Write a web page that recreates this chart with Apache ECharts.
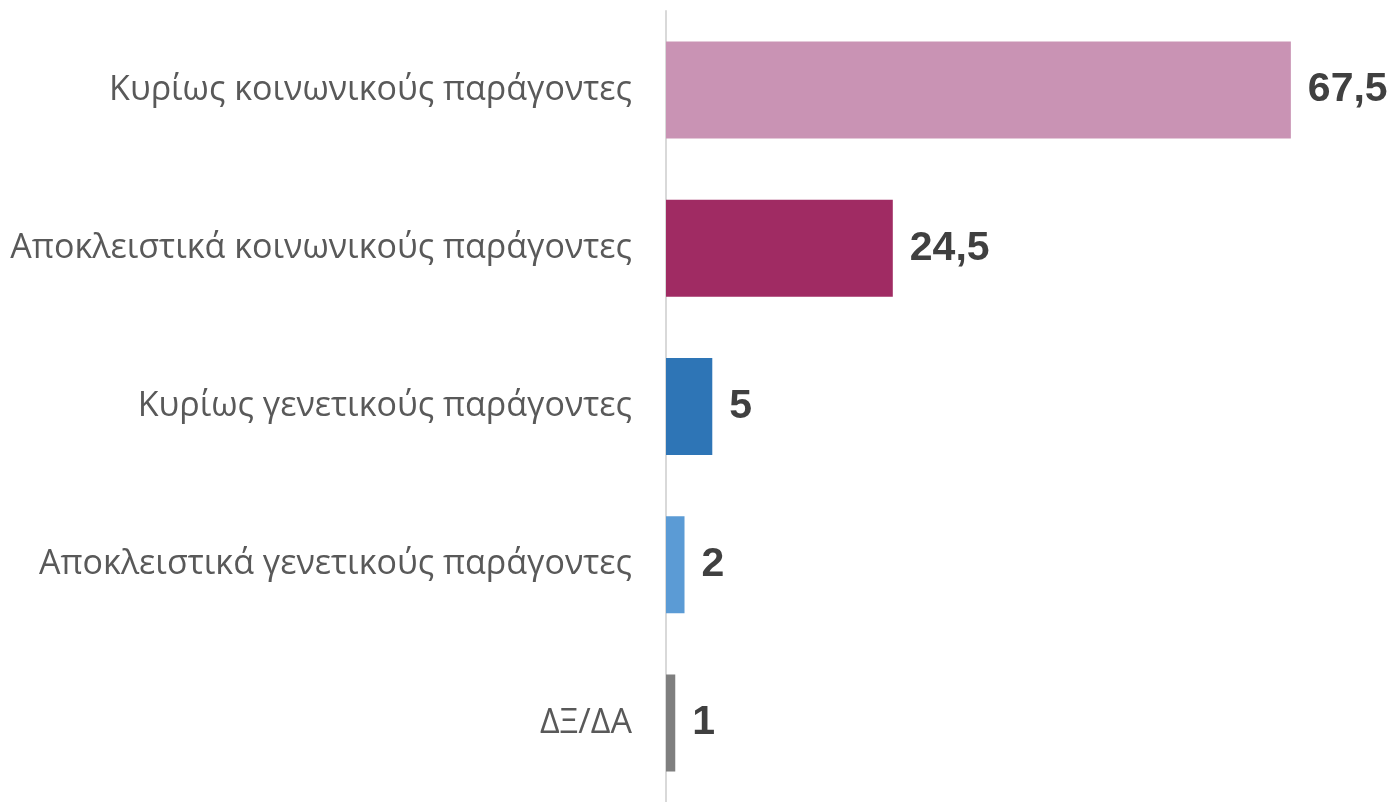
<!DOCTYPE html>
<html>
<head>
<meta charset="utf-8">
<script src="https://cdn.jsdelivr.net/npm/echarts@6/dist/echarts.min.js"></script>
<style>
  html, body { margin: 0; padding: 0; background: #fff; }
  #main { width: 1394px; height: 802px; }
</style>
</head>
<body>
<div id="main"></div>
<script>
const categories = [
  'Κυρίως κοινωνικούς παράγοντες',
  'Αποκλειστικά κοινωνικούς παράγοντες',
  'Κυρίως γενετικούς παράγοντες',
  'Αποκλειστικά γενετικούς παράγοντες',
  'ΔΞ/ΔΑ'
];
const values = [67.5, 24.5, 5, 2, 1];
const barColors = ['#C993B4', '#A02B63', '#2E75B6', '#5B9BD5', '#7F7F7F'];

const chart = echarts.init(document.getElementById('main'));
const option = {
  animation: false,
  grid: { left: 666, right: 80, top: 11, bottom: -4 },
  xAxis: {
    type: 'value',
    min: 0,
    max: 70,
    show: false
  },
  yAxis: {
    type: 'category',
    inverse: true,
    data: categories,
    axisTick: { show: false },
    axisLine: { show: true, lineStyle: { color: '#D9D9D9', width: 2 } },
    axisLabel: {
      margin: 34,
      fontFamily: 'Open Sans',
      fontSize: 34,
      color: '#595959'
    }
  },
  series: [{
    type: 'bar',
    barWidth: 97,
    data: values.map((v, i) => ({ value: v, itemStyle: { color: barColors[i] } })),
    label: {
      show: true,
      position: 'right',
      distance: 17,
      fontFamily: 'Liberation Sans',
      fontWeight: 'bold',
      fontSize: 41,
      color: '#404040',
      formatter: p => String(p.value).replace('.', ',')
    }
  }]
};
chart.setOption(option);
</script>
</body>
</html>
